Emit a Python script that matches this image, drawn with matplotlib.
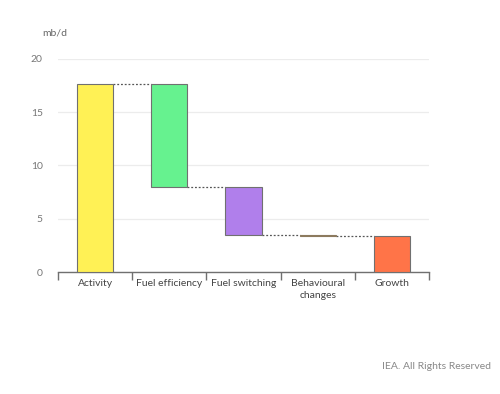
import numpy as np
import matplotlib.pyplot as plt

plt.rcParams['font.family'] = ['Lato', 'DejaVu Sans']

categories = ['Activity', 'Fuel efficiency', 'Fuel switching',
              'Behavioural\nchanges', 'Growth']
changes = [17.6, -9.6, -4.5, -0.08]
total = 3.42
colors = ['#fff155', '#66f28f', '#b07feb', '#a08b6b', '#ff7448']
edges = ['#707070', '#707070', '#707070', '#8c7a5e', '#707070']
yticks = [0, 5, 10, 15, 20]

# waterfall: bottom and height for each step, then the total
levels = np.concatenate([[0], np.cumsum(changes)])
bottoms = [min(levels[i], levels[i + 1]) for i in range(len(changes))] + [0]
heights = [abs(c) for c in changes] + [total]

fig = plt.figure(figsize=(5, 3.94), dpi=100)
ax = fig.add_axes([0.116, 0.3084, 0.742, 0.5431])

x = np.arange(len(categories))
w = 0.49
ax.bar(x, heights, w, bottom=bottoms, color=colors,
       edgecolor=edges, linewidth=0.8, zorder=3)

# dotted connectors between bars
for i in range(len(categories) - 1):
    ax.plot([x[i] + w / 2, x[i + 1] - w / 2], [levels[i + 1]] * 2,
            color='#555555', lw=0.9, ls=(0, (1.5, 1.5)), zorder=2)

ax.set_xlim(-0.5, len(categories) - 0.5)
ax.set_ylim(0, 20)
ax.set_yticks(yticks)
ax.grid(axis='y', color='#ececec', lw=0.9, zorder=0)
ax.set_axisbelow(True)

for s in ['left', 'right', 'top']:
    ax.spines[s].set_visible(False)
ax.spines['bottom'].set_color('#707070')
ax.spines['bottom'].set_linewidth(1.0)

ax.set_xticks(np.arange(len(categories) + 1) - 0.5)
ax.set_xticklabels([])
ax.set_xticks(x, minor=True)
ax.set_xticklabels(categories, minor=True, fontsize=7.5, color='#444444',
                   linespacing=1.3)
ax.tick_params(axis='x', which='major', length=6, width=1.0,
               color='#707070', direction='out')
ax.tick_params(axis='x', which='minor', length=0, pad=5)
ax.tick_params(axis='y', length=0, labelsize=7.5, labelcolor='#777777', pad=11)

fig.text(0.084, 0.916, 'mb/d', fontsize=7.5, color='#666666',
         ha='left', va='center')
fig.text(0.982, 0.07, 'IEA. All Rights Reserved', fontsize=7.5,
         color='#888888', ha='right', va='center')

fig.savefig('out.png', dpi=100)
